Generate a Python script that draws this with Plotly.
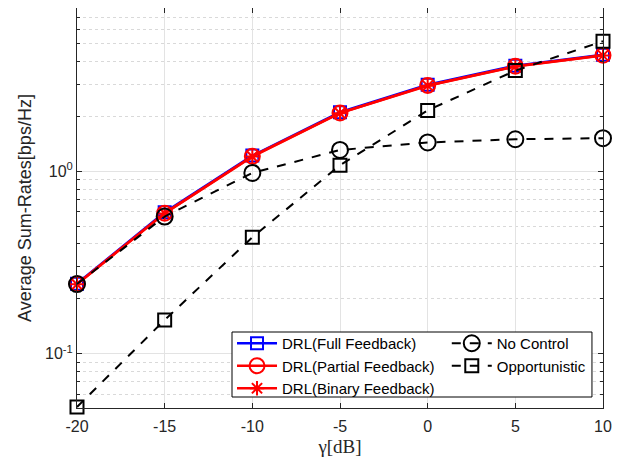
import plotly.graph_objects as go

gamma_db = [-20, -15, -10, -5, 0, 5, 10]
x_tick_text = ["-20", "-15", "-10", "-5", "0", "5", "10"]
drl_full = [0.242, 0.597, 1.22, 2.11, 2.99, 3.80, 4.36]
drl_partial = [0.241, 0.590, 1.21, 2.09, 2.96, 3.77, 4.33]
drl_binary = [0.240, 0.588, 1.205, 2.085, 2.95, 3.76, 4.32]
no_control = [0.241, 0.565, 0.98, 1.31, 1.44, 1.50, 1.52]
opportunistic = [0.051, 0.153, 0.435, 1.08, 2.16, 3.57, 5.17]

y_tick_vals = [0.1, 1]
y_tick_text = ["10<sup>-1</sup>", "10<sup>0</sup>"]
y_minor_vals = [0.05, 0.06, 0.07, 0.08, 0.09, 0.2, 0.3, 0.4, 0.5, 0.6, 0.7, 0.8, 0.9,
                2, 3, 4, 5, 6, 7, 8]

AX = "#262626"
GRID = "#e3e3e3"
FONT = "Liberation Sans, Arial, sans-serif"

fig = go.Figure()

fig.add_trace(go.Scatter(x=gamma_db, y=drl_full, name="DRL(Full Feedback)", mode="lines+markers",
                         line=dict(color="#0000ff", width=2.5),
                         marker=dict(symbol="square-open", size=12, color="#0000ff", line=dict(width=2)),
                         cliponaxis=False, legend="legend"))
fig.add_trace(go.Scatter(x=gamma_db, y=drl_partial, name="DRL(Partial Feedback)", mode="lines+markers",
                         line=dict(color="#ff0000", width=2.5),
                         marker=dict(symbol="circle-open", size=15, color="#ff0000", line=dict(width=2)),
                         cliponaxis=False, legend="legend"))
fig.add_trace(go.Scatter(x=gamma_db, y=drl_binary, name="DRL(Binary Feedback)", mode="lines+markers",
                         line=dict(color="#ff0000", width=2.5),
                         marker=dict(symbol="asterisk-open", size=12, color="#ff0000", line=dict(width=2, color="#ff0000")),
                         cliponaxis=False, legend="legend"))
fig.add_trace(go.Scatter(x=gamma_db, y=no_control, name="No Control", mode="lines+markers",
                         line=dict(color="#000000", width=2, dash="dash"),
                         marker=dict(symbol="circle-open", size=16, color="#000000", line=dict(width=2)),
                         cliponaxis=False, legend="legend2"))
fig.add_trace(go.Scatter(x=gamma_db, y=opportunistic, name="Opportunistic", mode="lines+markers",
                         line=dict(color="#000000", width=2, dash="dash"),
                         marker=dict(symbol="square-open", size=13, color="#000000", line=dict(width=2)),
                         cliponaxis=False, legend="legend2"))

# legend box
fig.add_shape(type="rect", xref="paper", yref="paper", x0=0.2947, x1=0.979, y0=0.0275, y1=0.19,
              fillcolor="white", line=dict(color="black", width=1), layer="above")

fig.update_layout(
    width=627, height=461,
    margin=dict(l=69, r=32, t=0, b=61),
    paper_bgcolor="white", plot_bgcolor="white",
    font=dict(family=FONT, size=16, color=AX),
    showlegend=True,
    legend=dict(x=0.2947, y=0.2025, xanchor="left", yanchor="top", bgcolor="rgba(0,0,0,0)",
                borderwidth=0, font=dict(size=15, color="black"), tracegroupgap=0,
                itemwidth=40),
    legend2=dict(x=0.703, y=0.2025, xanchor="left", yanchor="top", bgcolor="rgba(0,0,0,0)",
                 borderwidth=0, font=dict(size=15, color="black"), tracegroupgap=0,
                 itemwidth=40),
    xaxis=dict(range=[-20, 10], tickvals=gamma_db, ticktext=x_tick_text,
               showgrid=True, gridcolor=GRID, gridwidth=1,
               showline=True, linecolor=AX, linewidth=1, mirror="allticks",
               ticks="inside", ticklen=5, tickcolor=AX, zeroline=False, ticklabelstandoff=4,
               title=dict(text="γ[dB]", font=dict(family="Liberation Serif, serif", size=19), standoff=5)),
    yaxis=dict(type="log", range=[-1.298, 0.896],
               tickvals=y_tick_vals, ticktext=y_tick_text,
               showgrid=True, gridcolor=GRID, gridwidth=1,
               showline=True, linecolor=AX, linewidth=1, mirror="allticks",
               ticks="inside", ticklen=5, tickcolor=AX, zeroline=False,
               minor=dict(tickvals=y_minor_vals, showgrid=True, gridcolor="#d9d9d9", griddash="dot",
                          ticks="inside", ticklen=3, tickcolor=AX),
               title=dict(text="Average Sum-Rates[bps/Hz]", font=dict(size=18), standoff=8)),
)

fig.write_html("out.html")
